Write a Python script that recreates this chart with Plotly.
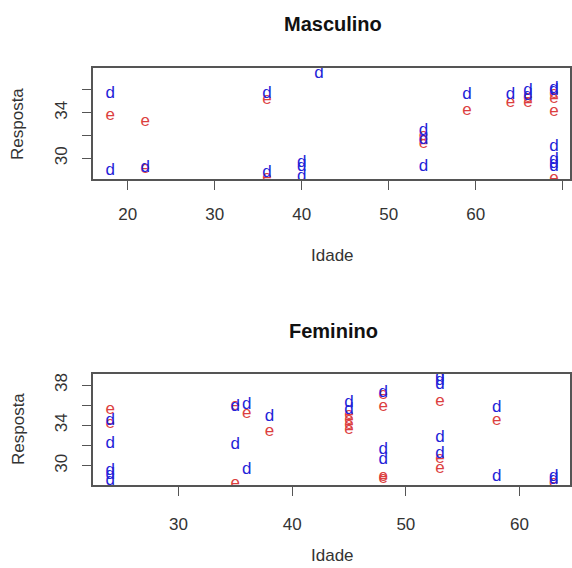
import plotly.graph_objects as go

# ---- Data ----
# Masculino panel
masc_d_idade = [18, 18, 22, 36, 36, 40, 40, 40, 42, 54, 54, 54, 59, 64, 66, 66, 69, 69, 69, 69, 69, 69]
masc_d_resp = [35.7, 28.9, 29.2, 35.7, 28.7, 29.6, 29.3, 28.4, 37.45, 32.4, 31.6, 29.3, 35.6, 35.6, 35.95, 35.5, 36.15, 35.9, 31.0, 29.9, 29.5, 29.3]
masc_e_idade = [18, 22, 22, 36, 36, 54, 54, 54, 59, 64, 66, 66, 69, 69, 69, 69]
masc_e_resp = [33.7, 33.2, 29.1, 35.1, 28.3, 32.0, 31.6, 31.25, 34.2, 34.9, 35.35, 34.9, 35.7, 35.25, 34.1, 28.2]

# Feminino panel
fem_d_idade = [24, 24, 24, 24, 24, 35, 35, 36, 36, 38, 45, 45, 48, 48, 48, 53, 53, 53, 53, 53, 58, 58, 63, 63]
fem_d_resp = [34.5, 32.2, 29.5, 29.1, 28.5, 35.85, 32.05, 36.0, 29.6, 34.85, 36.2, 35.5, 37.2, 31.55, 30.55, 38.8, 38.4, 38.0, 32.8, 31.2, 35.7, 28.9, 28.9, 28.6]
fem_e_idade = [24, 24, 35, 35, 36, 38, 45, 45, 45, 45, 48, 48, 48, 48, 53, 53, 53, 58, 63]
fem_e_resp = [35.5, 34.2, 35.9, 28.2, 35.2, 33.4, 35.1, 34.6, 34.1, 33.6, 37.0, 35.8, 28.95, 28.75, 36.3, 30.65, 29.7, 34.5, 28.3]

masc_x_ticks = [20, 30, 40, 50, 60, 70]
masc_y_ticks = [30, 32, 34, 36]
masc_y_labels = ["30", "", "34", ""]
fem_x_ticks = [30, 40, 50, 60]
fem_y_ticks = [30, 32, 34, 36, 38]
fem_y_labels = ["30", "", "34", "", "38"]

BLUE = "#2323d8"
RED = "#dc3f3f"
FONT = "Liberation Sans, Arial, sans-serif"
W, H = 572, 568

fig = go.Figure()

def add_text(x, y, label, color, xa, ya):
    fig.add_trace(go.Scatter(
        x=x, y=y, mode="text", text=[label] * len(x),
        textposition="middle center",
        textfont=dict(family=FONT, size=17, color=color),
        xaxis=xa, yaxis=ya, showlegend=False, hoverinfo="x+y", cliponaxis=True,
    ))

add_text(masc_e_idade, masc_e_resp, "e", RED, "x", "y")
add_text(masc_d_idade, masc_d_resp, "d", BLUE, "x", "y")
add_text(fem_e_idade, fem_e_resp, "e", RED, "x2", "y2")
add_text(fem_d_idade, fem_d_resp, "d", BLUE, "x2", "y2")

axis_common = dict(
    showgrid=False, zeroline=False, showline=True, mirror=True,
    linecolor="#555555", linewidth=1.5,
    ticks="outside", ticklen=9, tickwidth=1.3, tickcolor="#555555",
    tickfont=dict(family=FONT, size=17, color="#333333"),
)

xdom = [93 / W, 570 / W]
fig.update_layout(
    width=W, height=H,
    margin=dict(l=0, r=0, t=0, b=0),
    paper_bgcolor="white", plot_bgcolor="white",
    xaxis=dict(domain=xdom, anchor="y", range=[16.01, 70.84],
               tickmode="array", tickvals=masc_x_ticks, ticklabelstandoff=10, **axis_common),
    yaxis=dict(domain=[1 - 179 / H, 1 - 68 / H], anchor="x", range=[28.18, 37.93],
               tickmode="array", tickvals=masc_y_ticks, ticktext=masc_y_labels,
               tickangle=-90, ticklabelstandoff=8, **axis_common),
    xaxis2=dict(domain=xdom, anchor="y2", range=[22.48, 64.44],
                tickmode="array", tickvals=fem_x_ticks, ticklabelstandoff=14, **axis_common),
    yaxis2=dict(domain=[1 - 485 / H, 1 - 374 / H], anchor="x2", range=[28.09, 39.09],
                tickmode="array", tickvals=fem_y_ticks, ticktext=fem_y_labels,
                tickangle=-90, ticklabelstandoff=8, **axis_common),
)

def ann(text, xpx, ypx, size=17, bold=False, angle=0, color="#333333"):
    fig.add_annotation(
        text=f"<b>{text}</b>" if bold else text,
        x=xpx / W, y=1 - ypx / H, xref="paper", yref="paper",
        xanchor="center", yanchor="middle", showarrow=False, textangle=angle,
        font=dict(family=FONT, size=size, color=color),
    )

ann("Masculino", 333, 24.5, size=20, bold=True, color="#111111")
ann("Feminino", 333, 330.5, size=20, bold=True, color="#111111")
ann("Idade", 332, 255.5)
ann("Idade", 332, 555)
ann("Resposta", 18, 124, angle=-90)
ann("Resposta", 18, 429, angle=-90)

fig.write_html("out.html")
